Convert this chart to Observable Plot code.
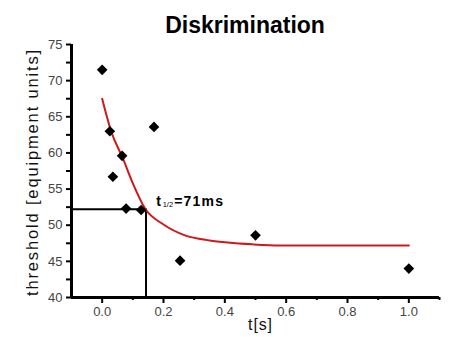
<!DOCTYPE html>
<html>
<head>
<meta charset="utf-8">
<script src="https://cdn.jsdelivr.net/npm/d3@7"></script>
<script src="https://cdn.jsdelivr.net/npm/@observablehq/plot@0.6"></script>
<style>
  html, body { margin: 0; padding: 0; background: #fff; }
  svg { font-family: Arial, "Liberation Sans", sans-serif; }
</style>
</head>
<body>
<div id="chart"></div>
<script>
// Measured points (t in s, threshold in equipment units)
const pointT = [0.0, 0.025, 0.035, 0.065, 0.078, 0.127, 0.169, 0.254, 0.5, 1.0];
const pointY = [71.5, 63.0, 56.7, 59.6, 52.3, 52.1, 63.6, 45.1, 48.6, 44.0];

// Fitted curve
const curveT = [0, 0.03, 0.067, 0.1, 0.14, 0.2, 0.27, 0.35, 0.41, 0.49, 0.58, 0.8, 1.0];
const curveY = [67.5, 62.9, 59.3, 55.8, 52.3, 50.1, 48.6, 47.9, 47.6, 47.35, 47.2, 47.2, 47.2];

// Half-life marker
const halfT = 0.143;
const halfY = 52.2;
const annotT = 0.176;
const annotY = 52.7;

// Axes
const xDomain = [-0.1, 1.1];
const yDomain = [40, 75];
const xMajor = [0, 0.2, 0.4, 0.6, 0.8, 1.0];
const xMinor = [0.1, 0.3, 0.5, 0.7, 0.9, 1.1];
const yMajor = [40, 45, 50, 55, 60, 65, 70, 75];
const yMinor = [42.5, 47.5, 52.5, 57.5, 62.5, 67.5, 72.5];

const titleText = "Diskrimination";
const xLabel = "t[s]";
const yLabel = "threshold [equipment units]";
const annotMain = "t";
const annotSub = "1/2";
const annotRest = "=71ms";

const points = pointT.map((t, i) => ({t, y: pointY[i]}));
const curve = curveT.map((t, i) => ({t, y: curveY[i]}));

const labelFont = {fontSize: 13, fill: "#444"};

const chart = Plot.plot({
  width: 458,
  height: 337,
  marginLeft: 71,
  marginRight: 19,
  marginTop: 44,
  marginBottom: 40,
  style: {background: "#fff", fontFamily: "Arial, 'Liberation Sans', sans-serif"},
  x: {domain: xDomain},
  y: {domain: yDomain},
  marks: [
    // drop lines for t1/2
    Plot.line([{t: xDomain[0], y: halfY}, {t: halfT, y: halfY}, {t: halfT, y: yDomain[0]}],
      {x: "t", y: "y", stroke: "black", strokeWidth: 2}),
    // fitted curve
    Plot.line(curve, {x: "t", y: "y", stroke: "#cc1a1a", strokeWidth: 2, curve: "monotone-x"}),
    // points
    Plot.dot(points, {x: "t", y: "y", symbol: "diamond2", r: 4.8, fill: "black", stroke: "none"}),
    // axes
    Plot.axisX({ticks: xMinor, tickSize: 3, tickFormat: () => "", label: null, strokeWidth: 2}),
    Plot.axisX({ticks: xMajor, tickSize: 6, tickPadding: 3, tickFormat: d3.format(".1f"), label: null,
      strokeWidth: 2, ...labelFont}),
    Plot.axisY({ticks: yMinor, tickSize: 5, tickFormat: () => "", label: null, strokeWidth: 2}),
    Plot.axisY({ticks: yMajor, tickSize: 5, tickPadding: 4, label: null, strokeWidth: 2, ...labelFont}),
    Plot.ruleX([xDomain[0]], {stroke: "black", strokeWidth: 3}),
    Plot.ruleY([yDomain[0]], {stroke: "black", strokeWidth: 3}),
    // title
    Plot.text([titleText], {frameAnchor: "top", textAnchor: "middle", dx: -10.5, dy: -12, lineAnchor: "bottom",
      fontSize: 23, fontWeight: "bold", fill: "black"}),
    // axis labels
    Plot.text([xLabel], {frameAnchor: "bottom", textAnchor: "middle", dx: 5, dy: 32, lineAnchor: "bottom",
      fontSize: 16, fill: "#111"}),
    Plot.text([yLabel], {frameAnchor: "left", textAnchor: "middle", dx: -33.5, dy: 1, rotate: -90,
      lineAnchor: "bottom", fontSize: 16.5, fill: "#111"}),
    // annotation t1/2=71ms
    Plot.text([{t: annotT, y: annotY}], {x: "t", y: "y", text: () => annotMain, textAnchor: "start",
      lineAnchor: "bottom", fontSize: 14, fontWeight: "bold", fill: "black"}),
    Plot.text([{t: annotT, y: annotY}], {x: "t", y: "y", text: () => annotSub, textAnchor: "start",
      lineAnchor: "bottom", dx: 6.5, dy: 1.5, fontSize: 7.5, fill: "black"}),
    Plot.text([{t: annotT, y: annotY}], {x: "t", y: "y", text: () => annotRest, textAnchor: "start",
      lineAnchor: "bottom", dx: 18, fontSize: 14, fontWeight: "bold", fill: "black"})
  ]
});

// letter spacing as in the original (Origin-style spaced text)
const spacing = new Map([[yLabel, "1.85px"], [xLabel, "0.9px"], [annotRest, "1.2px"]]);
d3.select(chart).selectAll("text").each(function () {
  const s = spacing.get(this.textContent);
  if (s) this.style.letterSpacing = s;
});

document.getElementById("chart").appendChild(chart);
</script>
</body>
</html>
